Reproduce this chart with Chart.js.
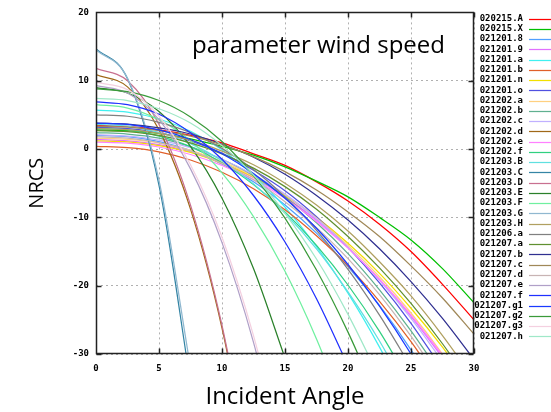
<!DOCTYPE html>
<html><head><meta charset="utf-8">
<script src="https://cdn.jsdelivr.net/npm/chart.js@4/dist/chart.umd.min.js"></script>
<style>html,body{margin:0;padding:0;background:#fff}#wrap{width:551px;height:412px;position:relative}canvas{display:block}</style>
</head><body><div id="wrap"><canvas id="c" width="551" height="412"></canvas></div>
<script>
// Incident angle sample points (deg)
const angles = [0, 2.5, 5, 7.5, 10, 12.5, 15, 17.5, 20, 22.5, 25, 27.5, 30];
const xTickValues = [0, 5, 10, 15, 20, 25, 30];
const yTickValues = [-30, -20, -10, 0, 10, 20];
const plotTitle = 'parameter wind speed';
const xTitle = 'Incident Angle';
const yTitle = 'NRCS';

// Series names (legend order)
const seriesNames = ['020215.A','020215.X','021201.8','021201.9','021201.a','021201.b','021201.n','021201.o',
  '021202.a','021202.b','021202.c','021202.d','021202.e','021202.f',
  '021203.B','021203.C','021203.D','021203.E','021203.F','021203.G','021203.H',
  '021206.a','021207.a','021207.b','021207.c','021207.d','021207.e','021207.f',
  '021207.g1','021207.g2','021207.g3','021207.h'];
const seriesColors = ['#ff0000','#00c000','#4f9fff','#e070ff','#40f0f0','#e0602a','#f2e000','#5050e0',
  '#ffd080','#60b090','#c0b0ff','#a06818','#ff80ff','#30d080',
  '#60e0e0','#3585a5','#c87090','#2a802a','#70f0a0','#90b8d0','#b0a060',
  '#808080','#609030','#303090','#a08858','#c8b4b4','#b0a0c8','#2030ff',
  '#1a3aff','#3a9a3a','#f4d0e0','#a0e8c8'];

// NRCS values (dB) at each angle, per series
const v020215A = [3.5,3.3,2.8,2.0,0.9,-0.7,-2.4,-4.8,-7.6,-11.0,-15.0,-19.8,-25.0];
const v020215X = [2.8,2.7,2.3,1.5,0.4,-0.9,-2.6,-4.7,-7.0,-10.0,-13.3,-17.5,-22.5];
const v0212018 = [2.0,1.8,1.1,-0.2,-2.2,-4.8,-8.2,-12.3,-17.2,-22.9,-29.4,-36.8,null];
const v0212019 = [1.4,1.2,0.65,-0.4,-2.0,-4.2,-7.0,-10.4,-14.4,-19.1,-24.5,-30.5,null];
const v021201a = [5.7,5.4,4.4,2.6,-0.1,-3.8,-8.5,-14.3,-21.1,-29.0,-38.0,null,null];
const v021201b = [0.4,0.2,-0.4,-1.6,-3.4,-5.8,-8.9,-12.7,-17.1,-22.3,-28.2,-34.9,null];
const v021201n = [1.2,1.05,0.5,-0.5,-2.1,-4.1,-6.8,-10.0,-13.8,-18.2,-23.3,-29.0,-35.4];
const v021201o = [3.2,3.0,2.4,1.2,-0.6,-3.1,-6.1,-9.9,-14.4,-19.6,-25.5,-32.2,null];
const v021202a = [1.6,1.4,0.9,-0.2,-1.8,-4.0,-6.7,-10.1,-14.1,-18.7,-24.0,-30.0,-36.7];
const v021202b = [2.4,2.2,1.6,0.35,-1.5,-3.9,-7.0,-10.8,-15.3,-20.6,-26.6,-33.3,null];
const v021202c = [2.1,1.9,1.3,0.2,-1.5,-3.75,-6.6,-10.2,-14.35,-19.2,-24.8,-31.05,null];
const v021202d = [10.9,9.1,2.8,-8.8,-26.2,-49.8,null,null,null,null,null,null,null];
const v021202e = [1.0,0.85,0.3,-0.8,-2.4,-4.5,-7.2,-10.6,-14.5,-19.1,-24.3,-30.2,null];
const v021202f = [3.0,2.8,1.9,0.35,-2.0,-5.2,-9.2,-14.1,-19.9,-26.7,-34.5,null,null];
const v021203B = [3.6,3.35,2.4,0.8,-1.7,-5.1,-9.4,-14.6,-20.9,-28.1,-36.4,null,null];
const v021203C = [14.7,10.3,-5.3,-34.2,null,null,null,null,null,null,null,null,null];
const v021203D = [11.8,10.0,3.6,-8.2,-25.8,-49.6,null,null,null,null,null,null,null];
const v021203E = [9.0,8.2,5.5,0.4,-7.2,-17.5,-30.6,null,null,null,null,null,null];
const v021203F = [6.5,6.0,4.3,1.2,-3.5,-9.9,-17.9,-27.8,-39.5,null,null,null,null];
const v021203G = [14.5,10.35,-4.6,-32.0,null,null,null,null,null,null,null,null,null];
const v021203H = [3.0,2.85,2.3,1.3,-0.3,-2.3,-5.0,-8.2,-12.0,-16.5,-21.5,-27.3,-33.7];
const v021206a = [5.0,4.8,3.9,2.4,0.1,-3.0,-7.0,-11.9,-17.6,-24.3,-31.9,null,null];
const v021207a = [2.7,2.55,2.0,0.9,-0.7,-2.8,-5.5,-8.8,-12.8,-17.4,-22.6,-28.5,-35.1];
const v021207b = [3.8,3.65,3.1,2.2,0.7,-1.2,-3.7,-6.8,-10.4,-14.6,-19.4,-24.8,-30.8];
const v021207c = [3.3,3.2,2.7,1.9,0.6,-1.1,-3.3,-6.0,-9.2,-12.8,-17.1,-21.8,-27.1];
const v021207d = [1.8,1.6,0.95,-0.3,-2.1,-4.5,-7.7,-11.5,-16.05,-21.3,-27.4,-34.2,null];
const v021207e = [9.3,8.2,4.3,-2.9,-13.7,-28.3,-46.9,null,null,null,null,null,null];
const v021207f = [6.9,6.5,5.1,2.4,-1.5,-6.8,-13.6,-21.9,-31.7,null,null,null,null];
const v021207g1 = [3.8,3.6,2.8,1.4,-0.7,-3.6,-7.2,-11.6,-16.9,-23.0,-30.0,-37.9,null];
const v021207g2 = [8.8,8.4,7.1,4.7,1.1,-3.9,-10.1,-17.7,-26.8,-37.3,null,null,null];
const v021207g3 = [9.75,8.7,4.8,-2.3,-12.9,-27.3,-45.6,null,null,null,null,null,null];
const v021207h = [7.4,7.1,5.9,3.8,0.5,-3.8,-9.4,-16.1,-24.2,-33.5,null,null,null];

const seriesValues = [v020215A,v020215X,v0212018,v0212019,v021201a,v021201b,v021201n,v021201o,
  v021202a,v021202b,v021202c,v021202d,v021202e,v021202f,
  v021203B,v021203C,v021203D,v021203E,v021203F,v021203G,v021203H,
  v021206a,v021207a,v021207b,v021207c,v021207d,v021207e,v021207f,
  v021207g1,v021207g2,v021207g3,v021207h];

const N = seriesNames.length;
const datasets = seriesNames.map((name, i) => ({
  label: name,
  data: angles.map((a, j) => ({x: a, y: seriesValues[i][j]})),
  borderColor: seriesColors[i],
  backgroundColor: seriesColors[i],
  borderWidth: 1.25,
  pointRadius: 0,
  fill: false,
  cubicInterpolationMode: 'monotone',
  spanGaps: false,
  order: N - i
}));

const tickFont = {family: '"DejaVu Sans Mono", monospace', size: 9, weight: 'bold'};

const framePlugin = {
  id: 'gpFrame',
  afterDatasetsDraw(chart) {
    const {ctx, chartArea: a, scales} = chart;
    ctx.save();
    ctx.strokeStyle = '#222';
    ctx.lineWidth = 1.5;
    ctx.beginPath();
    const L = Math.round(a.left) + 0.5, R = Math.round(a.right) - 0.5, T = Math.round(a.top) + 0.5, B = Math.round(a.bottom) - 0.5;
    ctx.rect(L, T, R - L, B - T);
    const tl = 5;
    xTickValues.forEach(v => {
      const px = Math.round(scales.x.getPixelForValue(v)) + 0.5;
      ctx.moveTo(px, B); ctx.lineTo(px, B - tl);
      ctx.moveTo(px, T); ctx.lineTo(px, T + tl);
    });
    yTickValues.forEach(v => {
      const py = Math.round(scales.y.getPixelForValue(v)) + 0.5;
      ctx.moveTo(L, py); ctx.lineTo(L + tl, py);
      ctx.moveTo(R, py); ctx.lineTo(R - tl, py);
    });
    ctx.stroke();
    ctx.restore();
  },
  afterDraw(chart) {
    const ctx = chart.ctx;
    ctx.save();
    // in-plot title
    ctx.fillStyle = '#000';
    ctx.font = '24px "Open Sans", sans-serif';
    ctx.textAlign = 'left';
    ctx.textBaseline = 'alphabetic';
    ctx.fillText(plotTitle, 192, 53);
    // gnuplot-style key
    ctx.font = 'bold 9px "DejaVu Sans Mono", monospace';
    ctx.textAlign = 'right';
    ctx.textBaseline = 'middle';
    chart.data.datasets.forEach((ds, i) => {
      const y = 18.5 + i * 10.25;
      ctx.fillStyle = '#000';
      ctx.fillText(ds.label, 523, y);
      ctx.strokeStyle = ds.borderColor;
      ctx.lineWidth = 1.25;
      ctx.beginPath();
      ctx.moveTo(529, Math.round(y) + 0.5);
      ctx.lineTo(551, Math.round(y) + 0.5);
      ctx.stroke();
    });
    ctx.restore();
  }
};

new Chart(document.getElementById('c'), {
  type: 'line',
  data: {datasets},
  options: {
    responsive: false,
    animation: false,
    devicePixelRatio: 1,
    layout: {padding: {left: 0, right: 77, top: 11, bottom: 0}},
    plugins: {legend: {display: false}, tooltip: {enabled: false}, title: {display: false}},
    scales: {
      x: {
        type: 'linear', min: 0, max: 30,
        afterBuildTicks: s => { s.ticks = xTickValues.map(v => ({value: v})); },
        ticks: {font: tickFont, color: '#000', padding: 9, maxRotation: 0},
        grid: {color: '#b0b0b0', lineWidth: 1, drawTicks: false},
        border: {display: false, dash: [2, 3]},
        title: {display: true, text: xTitle, font: {family: '"Open Sans", sans-serif', size: 24}, color: '#000', padding: {top: 0, bottom: 0}},
        afterFit: s => { s.height = 58; }
      },
      y: {
        type: 'linear', min: -30, max: 20,
        afterBuildTicks: s => { s.ticks = yTickValues.map(v => ({value: v})); },
        ticks: {font: tickFont, color: '#000', padding: 7},
        grid: {color: '#b0b0b0', lineWidth: 1, drawTicks: false},
        border: {display: false, dash: [2, 3]},
        title: {display: true, text: yTitle, font: {family: '"Open Sans", sans-serif', size: 20}, color: '#000', padding: {top: 25, bottom: 0}},
        afterFit: s => { s.width = 96; }
      }
    }
  },
  plugins: [framePlugin]
});
</script>
</body></html>
